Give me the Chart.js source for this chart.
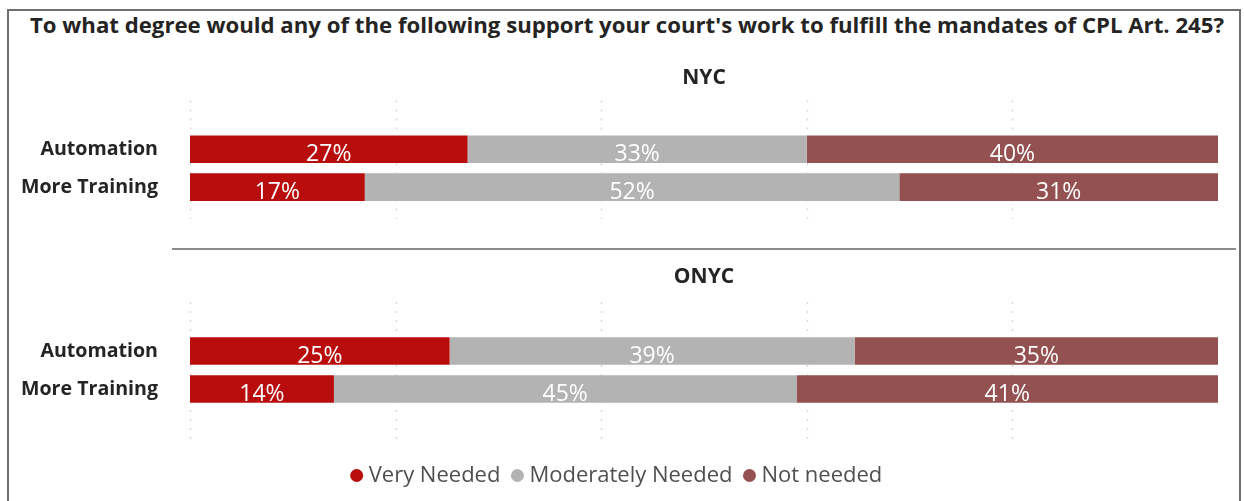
<!DOCTYPE html>
<html lang="en">

<head>
    <meta charset="UTF-8">
    <title>CPL Art. 245 support</title>
    <script src="https://cdn.jsdelivr.net/npm/chart.js@4.4.1/dist/chart.umd.min.js"></script>
    <style>
        body {
            margin: 0;
            background: #fff;
            font-family: "Open Sans", sans-serif;
        }

        .frame {
            position: absolute;
            left: 7px;
            top: 9px;
            width: 1230px;
            height: 500px;
            border: 2px solid #707070;
        }

        .title {
            position: absolute;
            left: 30px;
            top: 10px;
            font-size: 22.2px;
            font-weight: 700;
            line-height: 30px;
            color: #252423;
            white-space: nowrap;
        }

        .panel {
            position: absolute;
            left: 0;
            width: 1244px;
        }

        .rule {
            position: absolute;
            left: 172px;
            top: 248px;
            width: 1064px;
            height: 2px;
            background: #8c8c8c;
        }
    </style>
</head>

<body>
    <div class="frame"></div>
    <div class="title">To what degree would any of the following support your court's work to fulfill the mandates of CPL Art. 245?</div>
    <div class="panel" style="top:55px;height:164px"><canvas id="nycChart"></canvas></div>
    <div class="rule"></div>
    <div class="panel" style="top:255px;height:246px"><canvas id="onycChart"></canvas></div>

    <script>
        // 回答カテゴリと地域ごとの割合 (%)
        const supportItems = ['Automation', 'More Training'];
        const answerNames = ['Very Needed', 'Moderately Needed', 'Not needed'];
        const answerColors = ['#b90d0d', '#b3b3b3', '#945151'];

        const nycVery = [27, 17];
        const nycModerate = [33, 52];
        const nycNot = [40, 31];

        const onycVery = [25, 14];
        const onycModerate = [39, 45];
        const onycNot = [35, 41];

        const gridValues = [0, 20, 40, 60, 80];

        const labelFont = '"Open Sans", sans-serif';

        // 点線のグリッド (描画領域より上下に少しはみ出す)
        const dottedGrid = {
            id: 'dottedGrid',
            beforeDatasetsDraw(chart) {
                const c = chart.ctx;
                const area = chart.chartArea;
                const xs = chart.scales.x;
                c.save();
                c.strokeStyle = '#d9d9d9';
                c.lineWidth = 1.5;
                c.setLineDash([2, 7]);
                gridValues.forEach(v => {
                    const x = Math.round(xs.getPixelForValue(v)) + 0.5;
                    c.beginPath();
                    c.moveTo(x, area.top - 30);
                    c.lineTo(x, area.bottom + 32);
                    c.stroke();
                });
                c.restore();
            }
        };

        // 各セグメントの中央に元の値を書く
        const segmentLabels = {
            id: 'segmentLabels',
            afterDatasetsDraw(chart) {
                const c = chart.ctx;
                c.save();
                c.fillStyle = '#ffffff';
                c.font = '23px ' + labelFont;
                c.textAlign = 'center';
                c.textBaseline = 'alphabetic';
                chart.data.datasets.forEach((ds, i) => {
                    chart.getDatasetMeta(i).data.forEach((bar, j) => {
                        const cx = (bar.x + bar.base) / 2;
                        c.fillText(ds.rawValues[j] + '%', cx, bar.y + 12);
                    });
                });
                c.restore();
            }
        };

        // 100%積み上げ: 行ごとの合計で割る
        function makeDatasets(series) {
            const totals = supportItems.map((_, j) => series.reduce((s, vals) => s + vals[j], 0));
            return series.map((values, i) => ({
                label: answerNames[i],
                data: values.map((v, j) => v / totals[j] * 100),
                rawValues: values,
                backgroundColor: answerColors[i],
                borderWidth: 0,
                barPercentage: 0.73,
                categoryPercentage: 1.0
            }));
        }

        function makeChart(canvasId, region, series, showLegend) {
            return new Chart(document.getElementById(canvasId), {
                type: 'bar',
                data: {
                    labels: supportItems,
                    datasets: makeDatasets(series)
                },
                options: {
                    indexAxis: 'y',
                    responsive: true,
                    maintainAspectRatio: false,
                    animation: false,
                    layout: {
                        padding: { left: 20, right: 26, top: 0, bottom: showLegend ? 4.5 : 1 }
                    },
                    plugins: {
                        tooltip: { enabled: false },
                        title: {
                            display: true,
                            text: region,
                            fullSize: false,
                            color: '#252423',
                            font: { family: labelFont, size: 21, weight: 'bold', lineHeight: 1.2 },
                            padding: showLegend ? { top: 9.9, bottom: 41.9 } : { top: 10.4, bottom: 39.8 }
                        },
                        legend: {
                            display: showLegend,
                            position: 'bottom',
                            labels: {
                                usePointStyle: true,
                                pointStyle: 'circle',
                                boxWidth: 2,
                                boxHeight: 9.2,
                                padding: 16,
                                color: '#505050',
                                font: { family: labelFont, size: 22 }
                            }
                        }
                    },
                    scales: {
                        x: {
                            stacked: true,
                            min: 0,
                            max: 100,
                            display: showLegend,
                            grid: { display: false },
                            border: { display: false },
                            ticks: { display: false },
                            afterFit(scale) {
                                scale.height = showLegend ? 40.5 : 12;
                            }
                        },
                        y: {
                            stacked: true,
                            grid: { display: false, drawTicks: true, tickLength: 32 },
                            border: { display: false },
                            ticks: {
                                padding: 0,
                                color: '#252423',
                                font: { family: labelFont, size: 19.6, weight: 'bold' }
                            },
                            afterFit(scale) {
                                scale.width = 170;
                            }
                        }
                    }
                },
                plugins: [dottedGrid, segmentLabels]
            });
        }

        makeChart('nycChart', 'NYC', [nycVery, nycModerate, nycNot], false);
        makeChart('onycChart', 'ONYC', [onycVery, onycModerate, onycNot], true);
    </script>
</body>

</html>
